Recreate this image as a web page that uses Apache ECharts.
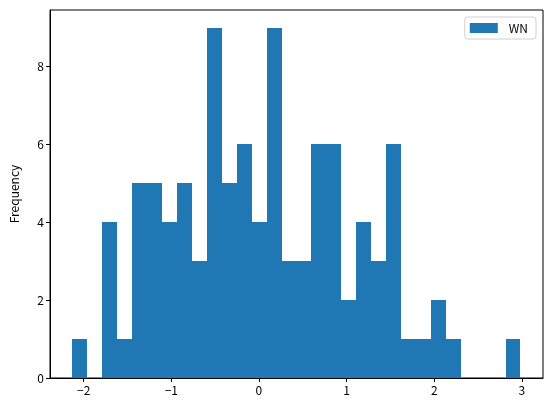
<!DOCTYPE html>
<html><head><meta charset="utf-8">
<script src="https://cdn.jsdelivr.net/npm/echarts@6/dist/echarts.min.js"></script>
<style>html,body{margin:0;padding:0;background:#fff}#c{width:553px;height:412px}</style>
</head><body><div id="c"></div>
<script>
// Histogram of WN: 30 bins
const binStart = -2.128;
const binWidth = 0.1704;
const counts = [1,0,4,1,5,5,4,5,3,9,5,6,4,9,3,3,6,6,2,4,3,6,1,1,2,1,0,0,0,1];
const xTicks = [-2,-1,0,1,2,3];
const yTicks = [0,2,4,6,8];
const seriesName = 'WN';

const data = counts.map((c,i)=>[binStart + i*binWidth, binStart + (i+1)*binWidth, c]);
const font = '"Noto Sans CJK JP","DejaVu Sans",sans-serif';
const chart = echarts.init(document.getElementById('c'), null, {renderer:'canvas'});
chart.setOption({
  animation:false,
  grid:{left:47,right:10,top:10,bottom:34,show:true,borderColor:'#000',borderWidth:1,backgroundColor:'transparent'},
  legend:{
    data:[{name:seriesName,icon:'rect'}],
    right:17, top:17, orient:'vertical',
    itemWidth:28, itemHeight:10,
    padding:[5,8,5,5],
    borderColor:'#d0d0d0', borderWidth:1, borderRadius:3,
    textStyle:{fontFamily:font,fontSize:12,color:'#000',padding:[0,0,0,6]}
  },
  xAxis:{
    type:'value', min:-2.384, max:3.241,
    splitLine:{show:false},
    axisLine:{show:true,onZero:false,lineStyle:{color:'#000'}},
    axisTick:{show:true,inside:false,length:4,lineStyle:{color:'#000'},customValues:xTicks},
    axisLabel:{fontFamily:font,fontSize:12,color:'#000',margin:6,customValues:xTicks,
      formatter:v=>v<0?'\u2212'+Math.abs(v):String(v)}
  },
  yAxis:{
    type:'value', min:0, max:9.45,
    name:'Frequency', nameLocation:'middle', nameGap:30,
    nameTextStyle:{fontFamily:font,fontSize:12,color:'#000'},
    splitLine:{show:false},
    axisLine:{show:true,onZero:false,lineStyle:{color:'#000'}},
    axisTick:{show:true,inside:false,length:4,lineStyle:{color:'#000'},customValues:yTicks},
    axisLabel:{fontFamily:font,fontSize:12,color:'#000',margin:6,customValues:yTicks}
  },
  series:[{
    name:seriesName, type:'custom',
    itemStyle:{color:'#1f77b4'},
    encode:{x:[0,1],y:2},
    renderItem:function(params,api){
      const p0 = api.coord([api.value(0), api.value(2)]);
      const p1 = api.coord([api.value(1), 0]);
      const x0 = Math.round(p0[0]), x1 = Math.round(p1[0]);
      const y0 = Math.round(p0[1]), y1 = Math.round(p1[1]);
      return {type:'rect',shape:{x:x0,y:y0,width:x1-x0,height:y1-y0},
        style:{fill:'#1f77b4'}};
    },
    data:data
  }]
});
</script></body></html>
